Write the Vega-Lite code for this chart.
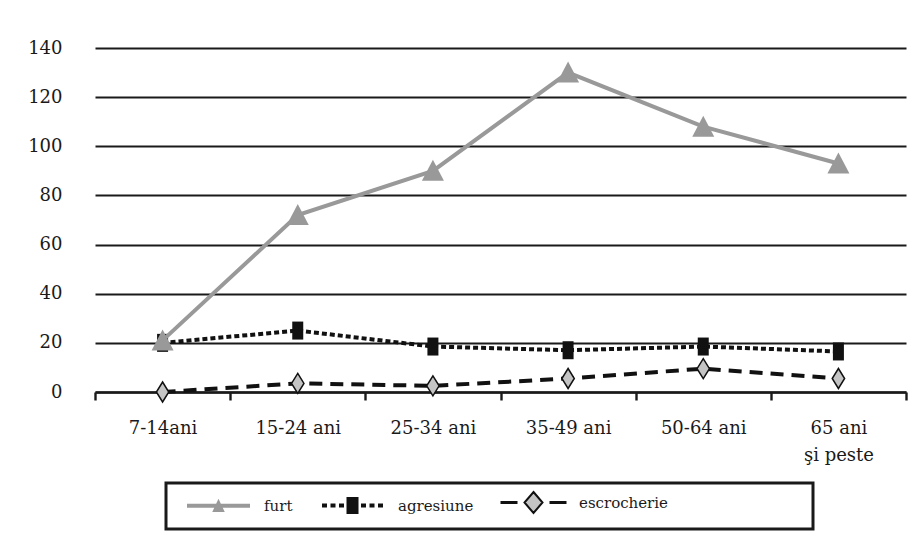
{
  "$schema": "https://vega.github.io/schema/vega-lite/v6.json",
  "autosize": {"type": "none"},
  "width": 811,
  "height": 344,
  "padding": {"left": 95, "top": 48, "right": 5, "bottom": 156},
  "background": "white",
  "config": {
    "view": {"stroke": null},
    "font": "DejaVu Serif",
    "axis": {"labelFont": "DejaVu Serif", "labelFontSize": 18, "labelColor": "#1a1a1a"},
    "legend": {"labelFont": "DejaVu Serif", "titleFont": "DejaVu Serif"}
  },
  "data": {
    "values": [
      {"grupa": "7-14ani", "tip": "furt", "valoare": 21},
      {"grupa": "15-24 ani", "tip": "furt", "valoare": 72},
      {"grupa": "25-34 ani", "tip": "furt", "valoare": 90},
      {"grupa": "35-49 ani", "tip": "furt", "valoare": 130},
      {"grupa": "50-64 ani", "tip": "furt", "valoare": 108},
      {"grupa": "65 ani şi peste", "tip": "furt", "valoare": 93},
      {"grupa": "7-14ani", "tip": "agresiune", "valoare": 20},
      {"grupa": "15-24 ani", "tip": "agresiune", "valoare": 25},
      {"grupa": "25-34 ani", "tip": "agresiune", "valoare": 18.5},
      {"grupa": "35-49 ani", "tip": "agresiune", "valoare": 17},
      {"grupa": "50-64 ani", "tip": "agresiune", "valoare": 18.5},
      {"grupa": "65 ani şi peste", "tip": "agresiune", "valoare": 16.5},
      {"grupa": "7-14ani", "tip": "escrocherie", "valoare": 0},
      {"grupa": "15-24 ani", "tip": "escrocherie", "valoare": 3.5},
      {"grupa": "25-34 ani", "tip": "escrocherie", "valoare": 2.5},
      {"grupa": "35-49 ani", "tip": "escrocherie", "valoare": 5.5},
      {"grupa": "50-64 ani", "tip": "escrocherie", "valoare": 9.5},
      {"grupa": "65 ani şi peste", "tip": "escrocherie", "valoare": 5.5}
    ]
  },
  "encoding": {
    "x": {
      "field": "grupa",
      "type": "nominal",
      "sort": ["7-14ani", "15-24 ani", "25-34 ani", "35-49 ani", "50-64 ani", "65 ani şi peste"],
      "bandPosition": 0.5,
      "scale": {"type": "band", "paddingInner": 0, "paddingOuter": 0},
      "axis": {
        "title": null,
        "labelAngle": 0,
        "domainColor": "#1a1a1a",
        "domainWidth": 2.4,
        "tickBand": "extent",
        "tickColor": "#1a1a1a",
        "tickWidth": 2.4,
        "tickSize": 8,
        "labelPadding": 19,
        "labelLineHeight": 27,
        "labelExpr": "datum.label == '65 ani şi peste' ? ['65 ani', 'şi peste'] : datum.label"
      }
    },
    "y": {
      "field": "valoare",
      "type": "quantitative",
      "scale": {"domain": [0, 140], "nice": false},
      "axis": {
        "title": null,
        "values": [0, 20, 40, 60, 80, 100, 120, 140],
        "domain": false,
        "ticks": false,
        "labelPadding": 33,
        "gridColor": "#1a1a1a",
        "gridWidth": 2,
        "gridOpacity": 1
      }
    },
    "color": {
      "field": "tip",
      "type": "nominal",
      "scale": {"domain": ["furt", "agresiune", "escrocherie"], "range": ["#999999", "#111111", "#111111"]},
      "legend": {
        "orient": "none",
        "direction": "horizontal",
        "legendX": 71,
        "legendY": 435,
        "title": "\u00a0",
        "titleOrient": "right",
        "titlePadding": 133,
        "titleFontSize": 15,
        "strokeColor": "#1a1a1a",
        "padding": 12,
        "labelFontSize": 15,
        "labelColor": "#1a1a1a",
        "symbolSize": 100,
        "symbolOffset": 33,
        "labelOffset": 38,
        "columnPadding": 19,
        "encode": {
          "legend": {"update": {"strokeWidth": {"value": 3}}},
          "symbols": {
            "update": {
              "shape": {"signal": "datum.value == 'furt' ? 'M-6.3,-0.4H6.3V0.4H-6.3Z M0,-1.4L1.25,1.25L-1.25,1.25Z' : datum.value == 'agresiune' ? 'M-6.1,-0.4H-5.1V0.4H-6.1Z M-4.4,-0.4H-3.4V0.4H-4.4Z M-2.7,-0.4H-1.7V0.4H-2.7Z M-1.2,-1.7H1.2V1.7H-1.2Z M1.7,-0.4H2.7V0.4H1.7Z M3.4,-0.4H4.4V0.4H3.4Z M5.1,-0.4H6.1V0.4H5.1Z' : 'M-6.4,-0.12H-3.4V0.12H-6.4Z M0,-2.1L1.8,0L0,2.1L-1.8,0Z M3.4,-0.12H6.4V0.12H3.4Z'"},
              "fill": {"signal": "datum.value == 'furt' ? '#999999' : datum.value == 'agresiune' ? '#111111' : '#c4c4c4'"},
              "stroke": {"signal": "datum.value == 'escrocherie' ? '#111111' : 'transparent'"},
              "strokeWidth": {"signal": "datum.value == 'escrocherie' ? 2 : 0"},
              "opacity": {"value": 1},
              "fillOpacity": {"value": 1}
            }
          }
        }
      }
    }
  },
  "layer": [
    {
      "transform": [{"filter": "datum.tip == 'escrocherie'"}],
      "mark": {"type": "line", "strokeWidth": 4, "strokeDash": [13, 8]}
    },
    {
      "transform": [{"filter": "datum.tip == 'escrocherie'"}],
      "mark": {"type": "point", "filled": true, "size": 400, "shape": "M0,-1L0.62,0L0,1L-0.62,0Z", "fill": "#c4c4c4", "stroke": "#111111", "strokeWidth": 1.5, "opacity": 1},
      "encoding": {"color": {"value": null}}
    },
    {
      "transform": [{"filter": "datum.tip == 'agresiune'"}],
      "mark": {"type": "line", "strokeWidth": 4, "strokeDash": [5, 3]}
    },
    {
      "transform": [{"filter": "datum.tip == 'agresiune'"}],
      "mark": {"type": "point", "filled": true, "size": 400, "shape": "M-0.55,-0.9H0.55V0.9H-0.55Z", "fill": "#111111", "opacity": 1},
      "encoding": {"color": {"value": null}}
    },
    {
      "transform": [{"filter": "datum.tip == 'furt'"}],
      "mark": {"type": "line", "strokeWidth": 4}
    },
    {
      "transform": [{"filter": "datum.tip == 'furt'"}],
      "mark": {"type": "point", "filled": true, "size": 400, "shape": "M0,-1.1L1.1,1L-1.1,1Z", "fill": "#999999", "opacity": 1},
      "encoding": {"color": {"value": null}}
    }
  ]
}
